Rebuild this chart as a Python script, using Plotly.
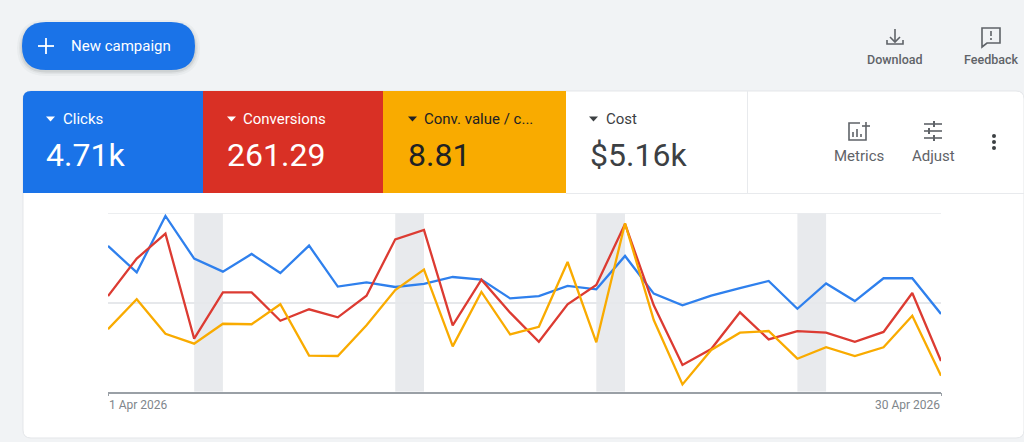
import plotly.graph_objects as go

W = 1024
H = 442

days = ["2026-04-%02d" % d for d in range(1, 31)]
weekends = [("2026-04-04", "2026-04-05"), ("2026-04-11", "2026-04-12"),
            ("2026-04-18", "2026-04-19"), ("2026-04-25", "2026-04-26")]
clicks = [81.7, 66.9, 98.5, 74.6, 67.3, 77.2, 66.5, 81.9, 58.9, 61.3, 58.7, 60.4, 64.3, 62.8, 52.3,
          53.6, 59.3, 57.4, 76.1, 55.0, 48.4, 53.8, 58.1, 62.1, 46.5, 60.7, 50.8, 63.6, 63.6, 43.6]
conversions = [53.6, 74.6, 88.6, 29.7, 55.7, 55.7, 39.8, 46.2, 41.7, 53.8, 85.4, 90.7, 37.2, 62.8, 44.3,
               28.0, 49.0, 59.8, 94.0, 48.4, 15.0, 23.9, 44.5, 29.3, 34.0, 33.1, 28.0, 33.5, 55.3, 17.2]
conv_value = [35.0, 51.8, 32.5, 26.9, 38.1, 37.8, 49.0, 20.2, 20.0, 37.2, 57.0, 68.4, 25.4, 55.9, 32.1,
              36.4, 72.7, 27.7, 94.4, 40.2, 4.1, 23.4, 33.1, 34.0, 18.5, 25.0, 20.0, 24.9, 42.6, 9.0]
y_grid = [0, 50, 100]

BLUE = "#1a73e8"
RED = "#d93025"
AMBER = "#f9ab00"
GREY = "#5f6368"
DARK = "#3c4043"

shapes = []
notes = []


def px(x):
    return x / W


def py(y):
    return 1 - y / H


def box(x0, y0, x1, y1, color, line=None):
    shapes.append(dict(type="rect", xref="paper", yref="paper", x0=px(x0), x1=px(x1), y0=py(y0), y1=py(y1),
                       fillcolor=color, line=dict(color=line or color, width=1 if line else 0), layer="below"))


def path(d, fill=None, line=None, width=1.6):
    # d is a list of (command, x, y) in pixels
    s = ""
    for c, *pts in d:
        s += c
        if pts:
            s += " ".join("%.5f,%.5f" % (px(pts[i]), py(pts[i + 1])) for i in range(0, len(pts), 2))
        s += " "
    shapes.append(dict(type="path", xref="paper", yref="paper", path=s.strip(),
                       fillcolor=fill or "rgba(0,0,0,0)",
                       line=dict(color=line or "rgba(0,0,0,0)", width=width if line else 0), layer="below"))


def rounded(x0, y0, x1, y1, r, color, line=None, corners=(1, 1, 1, 1)):
    tl, tr, br, bl = [r * c for c in corners]
    path([("M", x0 + tl, y0), ("L", x1 - tr, y0), ("Q", x1, y0, x1, y0 + tr), ("L", x1, y1 - br),
          ("Q", x1, y1, x1 - br, y1), ("L", x0 + bl, y1), ("Q", x0, y1, x0, y1 - bl), ("L", x0, y0 + tl),
          ("Q", x0, y0, x0 + tl, y0), ("Z",)], fill=color, line=line, width=1)


def text(x, y, s, size, color, anchor="left", weight=400):
    # annotations sit about a pixel right of the asked position
    x = x - 1 if anchor == "left" else x
    notes.append(dict(text=s, xref="paper", yref="paper", x=px(x), y=py(y), showarrow=False, xanchor=anchor,
                      yanchor="middle", borderpad=0,
                      font=dict(family="Roboto", size=size, color=color, weight=weight)))


def caret(x, y, color):
    path([("M", x, y - 2.5), ("L", x + 9, y - 2.5), ("L", x + 4.5, y + 2.5), ("Z",)], fill=color)


def line(x0, y0, x1, y1, color, width=1.6):
    path([("M", x0, y0), ("L", x1, y1)], line=color, width=width)


# page furniture
for grow, alpha in [(5, 0.04), (3, 0.06), (1.5, 0.10)]:
    rounded(22 - grow, 22 - grow + 3, 195 + grow, 70 + grow + 1, 24 + grow, "rgba(60,64,67,%s)" % alpha)
rounded(22, 22, 195, 70, 24, BLUE)
line(38, 46, 54, 46, "white", 1.8)
line(46, 38, 46, 54, "white", 1.8)
text(71, 46, "New campaign", 15, "white")

rounded(23, 91, 1024, 438, 8, "white", line="#e4e6e9")
rounded(23, 91, 203, 193, 8, BLUE, corners=(1, 0, 0, 0))
box(203, 91, 383, 193, RED)
box(383, 91, 566, 193, AMBER)
box(747, 91, 748, 193, "#e8eaed")
box(566, 193, 1024, 194, "#e8eaed")

# scorecards
caret(46, 119, "white")
text(63, 119.5, "Clicks", 15, "white")
text(46, 155, "4.71k", 32, "white")
caret(227, 119, "white")
text(243, 119.5, "Conversions", 15, "white")
text(227, 155, "261.29", 32, "white")
caret(408, 119, "#202124")
text(424, 119.5, "Conv. value / c...", 15, "#202124")
text(408, 155, "8.81", 32, "#202124")
caret(589, 119, DARK)
text(606, 119.5, "Cost", 15, DARK)
text(590, 155, "$5.16k", 32, DARK)

# download icon
line(895, 29, 895, 41, GREY)
path([("M", 890, 37), ("L", 895, 42), ("L", 900, 37)], line=GREY)
path([("M", 887, 40), ("L", 887, 44), ("L", 903, 44), ("L", 903, 40)], line=GREY)
text(895, 60, "Download", 12.5, GREY, "center", 500)

# feedback icon
path([("M", 982, 28), ("L", 1000, 28), ("L", 1000, 43), ("L", 987, 43), ("L", 982, 47), ("Z",)], line=GREY)
line(991, 31, 991, 36, GREY)
line(991, 38, 991, 40, GREY)
text(991, 60, "Feedback", 12.5, GREY, "center", 500)

# metrics icon
path([("M", 860, 123), ("L", 849, 123), ("L", 849, 140), ("L", 866, 140), ("L", 866, 130)], line=GREY)
line(853, 132, 853, 137, GREY)
line(857, 129, 857, 137, GREY)
line(861, 134, 861, 137, GREY)
line(866, 122, 866, 130, GREY)
line(862, 126, 870, 126, GREY)
text(859, 156, "Metrics", 15, GREY, "center")

# adjust icon
for y, a, b in [(124, 933, 936), (131, 928, 931), (138, 933, 936)]:
    line(924, y, 942, y, GREY)
    box(a, y - 3, a + 2, y + 3, GREY)
text(933, 156, "Adjust", 15, GREY, "center")

# more menu
for y in [136, 142, 148]:
    shapes.append(dict(type="circle", xref="paper", yref="paper", x0=px(992), x1=px(996), y0=py(y + 2), y1=py(y - 2),
                       fillcolor=DARK, line=dict(width=0), layer="below"))

# weekend bands
for a, b in weekends:
    shapes.append(dict(type="rect", xref="x", yref="y", x0=a, x1=b, y0=y_grid[0], y1=y_grid[-1],
                       fillcolor="#e8eaed", line=dict(width=0), layer="below"))

# plotly drops the gridline on the top edge of the range, so draw it here
shapes.append(dict(type="line", xref="x", yref="y", x0=days[0], x1=days[-1], y0=y_grid[-1], y1=y_grid[-1],
                   line=dict(color="#e6e8eb", width=1.5), layer="below"))

fig = go.Figure()
for name, vals, color in [("Clicks", clicks, "#2f80ed"), ("Conversions", conversions, "#dc3b32"),
                          ("Conv. value / cost", conv_value, AMBER)]:
    fig.add_trace(go.Scatter(x=days, y=vals, mode="lines", name=name, line=dict(color=color, width=2.3),
                             cliponaxis=False))

notes.append(dict(text="1 Apr 2026", xref="x", yref="paper", x=days[0], y=py(405), showarrow=False, xanchor="left",
                  yanchor="middle", borderpad=0, font=dict(family="Roboto", size=12, color="#80868b")))
notes.append(dict(text="30 Apr 2026", xref="x", yref="paper", x=days[-1], y=py(405), showarrow=False, xanchor="right",
                  yanchor="middle", borderpad=0, font=dict(family="Roboto", size=12, color="#80868b")))

fig.update_layout(
    width=W, height=H, margin=dict(l=0, r=0, t=0, b=0),
    paper_bgcolor="#f1f3f5", plot_bgcolor="rgba(0,0,0,0)",
    showlegend=False, shapes=shapes, annotations=notes,
    xaxis=dict(type="date", domain=[px(108), px(941)], range=[days[0], days[-1]], showgrid=False, zeroline=False,
               showline=True, linecolor="#9aa0a6", linewidth=1.5, tickvals=[days[0], days[-1]], ticks="outside",
               ticklen=3, tickcolor="#9aa0a6", showticklabels=False, fixedrange=True),
    yaxis=dict(domain=[py(391.7), py(213.3)], range=[y_grid[0], y_grid[-1]], tickvals=y_grid, showticklabels=False,
               showgrid=True, gridcolor="#e6e8eb", gridwidth=1.5, zeroline=False, fixedrange=True),
)

fig.write_html("out.html", config=dict(displayModeBar=False),
               post_script="document.body.style.margin='0';document.body.style.overflow='hidden';")
